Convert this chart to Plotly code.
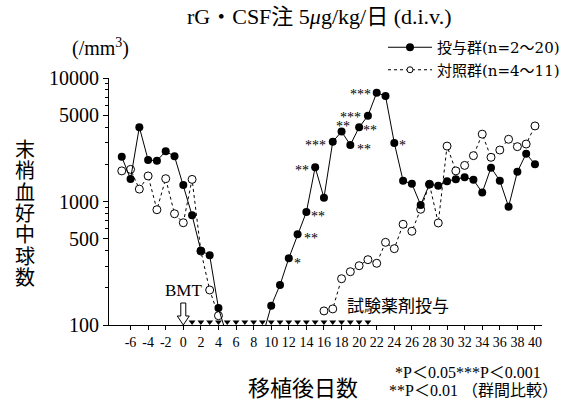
import numpy as np
import plotly.graph_objects as go

# ---------------- data ----------------
days = list(range(-7, 41))
treated = [2300, 1520, 4000, 2170, 2140, 2550, 2320, 1360, 773, 400, 367, 137,
           80, 95, 80, 80, 80,
           143, 211, 347, 542, 822, 1890, 1073, 3050, 3680, 2870, 3990, 4950,
           7600, 7150, 2980, 1470, 1390, 937, 1380, 1340, 1460, 1515, 1570,
           1500, 1180, 1880, 1475, 908, 1740, 2440, 2000]
treated_below_limit = [5, 7, 8, 9]          # days under the detection limit (no marker)
control = [1770, 1820, 1260, 1610, 858, 1530, 796, 673, 1510, 397, 192, 119,
           None, None, None, None, None, None, None, None, None, None, None,
           130, 135, 237, 270, 302, 338, 316, 467, 415, 654, 574, 865, 1380,
           670, 2810, 1770, 1960, 2350, 3510, 2280, 2610, 3190, 2780, 2920, 4090]
dosing_days = list(range(1, 22))
star_days = [12, 13, 14, 15, 17, 18, 19, 20, 21, 22, 24]
star_marks = ["*", "**", "**", "**", "***", "**", "**", "**", "***", "***", "*"]
x_ticks = list(range(-6, 41, 2))
y_ticks = [100, 500, 1000, 5000, 10000]
y_minor = [200, 300, 400, 600, 700, 800, 900, 2000, 3000, 4000, 6000, 7000, 8000, 9000]
legend_names = ["投与群(n=2〜20)", "対照群(n=4〜11)"]
title_text = "rG・CSF注 5<i>μ</i>g/kg/日 (d.i.v.)"
ylabel_text = "末梢血好中球数"
xlabel_text = "移植後日数"

# ---------------- layout constants ----------------
W, H = 580, 405
L, R, T, B = 109, 542, 78, 325
SERIF = "Liberation Serif, Noto Sans CJK JP, serif"
WSERIF = "DejaVu Serif, Noto Sans CJK JP, serif"
CJK = "Noto Sans CJK JP, sans-serif"

def px(p):
    return (p - L) / (R - L)

def py(p):
    return (B - p) / (B - T)

fig = go.Figure()

# control (open circles, dotted)
fig.add_trace(go.Scatter(x=days, y=control, mode="lines", showlegend=False,
                         line=dict(color="black", width=1, dash="dot"),
                         connectgaps=False))
fig.add_trace(go.Scatter(x=days, y=control, mode="markers", showlegend=False,
                         cliponaxis=False,
                         marker=dict(symbol="circle", size=8, color="white",
                                     line=dict(color="black", width=1))))

# treated (filled circles, solid)
tm_x = [d for d in days if d not in treated_below_limit]
tm_y = [v for d, v in zip(days, treated) if d not in treated_below_limit]
fig.add_trace(go.Scatter(x=days, y=treated, mode="lines", showlegend=False,
                         line=dict(color="black", width=1)))
fig.add_trace(go.Scatter(x=tm_x, y=tm_y, mode="markers", showlegend=False,
                         cliponaxis=False,
                         marker=dict(symbol="circle", size=8, color="black")))

# dosing triangles on the axis
tri_y = 10 ** (2 + 3 / 123.5)
fig.add_trace(go.Scatter(x=dosing_days, y=[tri_y] * len(dosing_days), mode="markers",
                         showlegend=False, cliponaxis=False,
                         marker=dict(symbol="triangle-down", size=6, color="black")))

# legend entries
fig.add_trace(go.Scatter(x=[None], y=[None], mode="lines+markers", name=legend_names[0],
                         line=dict(color="black", width=1),
                         marker=dict(symbol="circle", size=8, color="black")))
fig.add_trace(go.Scatter(x=[None], y=[None], mode="lines+markers", name=legend_names[1],
                         line=dict(color="black", width=1, dash="dot"),
                         marker=dict(symbol="circle", size=6, color="white",
                                     line=dict(color="black", width=1))))

annotations = []
# significance stars
star_offsets = {12: (9, 2), 13: (13, 1), 14: (12, 1), 15: (-13, 0), 17: (-17, 1),
                18: (1, -8), 19: (14, 2), 20: (11, 0), 21: (-17, -1), 22: (-16, -1),
                24: (8, 0)}
val_by_day = dict(zip(days, treated))
for d, m in zip(star_days, star_marks):
    dx, dy = star_offsets[d]
    annotations.append(dict(x=d, y=np.log10(val_by_day[d]), xref="x", yref="y",
                            text=m, showarrow=False, xshift=dx, yshift=-dy - 3,
                            xanchor="center", yanchor="middle",
                            font=dict(family=SERIF, size=14, color="black")))


def label(xp, yp, text, font, anchor="center", size=16):
    annotations.append(dict(x=px(xp), y=py(yp), xref="paper", yref="paper", text=text,
                            showarrow=False, xanchor=anchor, yanchor="middle",
                            font=dict(family=font, size=size, color="black")))


label(318.5, 16, title_text, SERIF, size=22)
label(70, 47, "(/mm<sup>3</sup>)", SERIF, anchor="left", size=20)
for i, ch in enumerate(ylabel_text):
    label(25, 148.6 + 21.3 * i, ch, CJK, size=20)
label(302.5, 385.5, xlabel_text, CJK, size=22)
label(183.5, 290, "BMT", SERIF, size=17)
label(398, 304, "試験薬剤投与", CJK, size=17)
label(393, 372, "*P＜0.05***P＜0.001", SERIF, anchor="left", size=16)
label(387, 390, "**P＜0.01 （群間比較）", SERIF, anchor="left", size=16)

# hollow BMT arrow
shapes = [dict(type="path", xref="x", yref="paper", xsizemode="pixel", ysizemode="pixel",
               xanchor=0, yanchor=0,
               path="M0,0 L-6,9 L-2.5,9 L-2.5,22 L2.5,22 L2.5,9 L6,9 Z",
               fillcolor="white", line=dict(color="black", width=1))]

fig.update_layout(
    width=W, height=H,
    margin=dict(l=L, r=W - R, t=T, b=H - B, pad=0, autoexpand=False),
    paper_bgcolor="white", plot_bgcolor="white",
    annotations=annotations, shapes=shapes,
    legend=dict(xref="container", yref="container", x=383 / W, y=1 - 31 / H,
                xanchor="left", yanchor="top", bgcolor="rgba(0,0,0,0)",
                itemwidth=44,
                font=dict(family=WSERIF, size=15, color="black"),
                tracegroupgap=0),
    xaxis=dict(range=[-8.45, 40.8], tickmode="array", tickvals=x_ticks,
               ticktext=[str(v) for v in x_ticks], ticks="outside", ticklen=4,
               tickangle=0, automargin=False,
               tickcolor="black", showline=True, linecolor="black", linewidth=1,
               showgrid=False, zeroline=False,
               tickfont=dict(family=SERIF, size=14, color="black")),
    yaxis=dict(type="log", range=[2, 4], tickmode="array", tickvals=y_ticks,
               ticktext=[str(v) for v in y_ticks], ticks="outside", ticklen=5,
               automargin=False,
               tickcolor="black", showline=True, linecolor="black", linewidth=1,
               showgrid=False, zeroline=False,
               minor=dict(tickmode="array", tickvals=y_minor, ticks="outside",
                          ticklen=3, tickcolor="black", showgrid=False),
               tickfont=dict(family=SERIF, size=20, color="black")),
)

fig.write_html("out.html", config={"displayModeBar": False},
               post_script="document.body.style.margin='0';document.body.style.padding='0';")
